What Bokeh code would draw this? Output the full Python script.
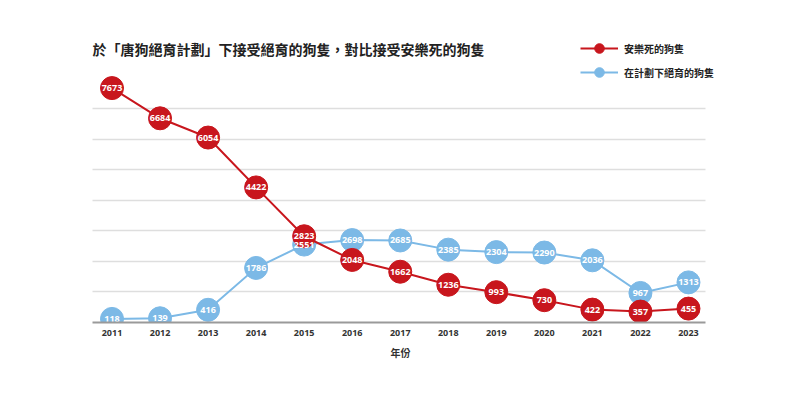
from bokeh.plotting import figure
from bokeh.models import Range1d, FixedTicker, Label, Legend, LegendItem, ColumnDataSource
from bokeh.core.properties import value
from bokeh.embed import file_html
from bokeh.resources import INLINE

years = [2011, 2012, 2013, 2014, 2015, 2016, 2017, 2018, 2019, 2020, 2021, 2022, 2023]
euthanised = [7673, 6684, 6054, 4422, 2823, 2048, 1662, 1236, 993, 730, 422, 357, 455]
neutered = [118, 139, 416, 1786, 2551, 2698, 2685, 2385, 2304, 2290, 2036, 967, 1313]
y_ticks = [0, 1000, 2000, 3000, 4000, 5000, 6000, 7000]

title_text = "於「唐狗絕育計劃」下接受絕育的狗隻，對比接受安樂死的狗隻"
label_red = "安樂死的狗隻"
label_blue = "在計劃下絕育的狗隻"
x_label = "年份"

RED = "#c8161d"
BLUE = "#7cb9e6"
GRID = "#dedede"

grid_lo, grid_hi = 2010.6, 2023.36

p = figure(width=800, height=395, output_backend="svg", toolbar_location=None,
           x_range=Range1d(2008.679, 2025.332), y_range=Range1d(0, 10540),
           min_border_left=0, min_border_right=0, min_border_top=0, min_border_bottom=73)
p.outline_line_color = None
p.background_fill_color = "white"
p.border_fill_color = "white"

p.yaxis.visible = False
p.xgrid.grid_line_color = None

yg = p.ygrid[0]
if "cross_bounds" in yg.properties():
    yg.ticker = FixedTicker(ticks=y_ticks)
    yg.grid_line_color = GRID
    yg.grid_line_width = 1.5
    yg.cross_bounds = (grid_lo, grid_hi)
else:
    yg.grid_line_color = None
    p.segment(x0=grid_lo, x1=grid_hi, y0=y_ticks, y1=y_ticks, line_color=GRID, line_width=1.5)

xa = p.xaxis[0]
xa.bounds = (grid_lo, grid_hi)
xa.ticker = FixedTicker(ticks=years)
xa.axis_line_color = "#9a9a9a"
xa.axis_line_width = 2
xa.major_tick_line_color = None
xa.minor_tick_line_color = None
xa.major_tick_out = 0
xa.major_label_standoff = 7
xa.major_label_text_font = "Open Sans"
xa.major_label_text_font_style = "bold"
xa.major_label_text_font_size = "9px"
xa.major_label_text_color = "#333333"
xa.axis_label = x_label
xa.axis_label_standoff = 6
xa.axis_label_text_font = "Noto Sans CJK TC"
xa.axis_label_text_font_style = "bold"
xa.axis_label_text_font_size = "10px"
xa.axis_label_text_color = "#333333"

src_r = ColumnDataSource(dict(x=years, y=euthanised, t=[str(v) for v in euthanised]))
src_b = ColumnDataSource(dict(x=years, y=neutered, t=[str(v) for v in neutered]))

lb = p.line("x", "y", source=src_b, line_color=BLUE, line_width=2)
cb = p.scatter("x", "y", source=src_b, size=23, fill_color=BLUE, line_color=BLUE)
lr = p.line("x", "y", source=src_r, line_color=RED, line_width=2)
cr = p.scatter("x", "y", source=src_r, size=23, fill_color=RED, line_color=RED)

for src in (src_b, src_r):
    p.text("x", "y", text="t", source=src, text_align="center", text_baseline="middle",
           text_color="white", text_font=value("Open Sans"), text_font_style="bold",
           text_font_size="9px")

title = Label(x=92, y=274, x_units="screen", y_units="screen", text=title_text,
              text_font="Noto Sans CJK TC", text_font_style="bold", text_font_size="14px",
              text_color="#222222", text_baseline="middle", text_align="left")
p.add_layout(title)

legend = Legend(items=[LegendItem(label=label_red, renderers=[lr, cr]),
                       LegendItem(label=label_blue, renderers=[lb, cb])],
                location=(580, 238), padding=0, margin=0, spacing=0,
                glyph_width=38, glyph_height=24, label_standoff=6,
                border_line_alpha=0, background_fill_alpha=0,
                label_text_font="Noto Sans CJK TC", label_text_font_style="bold",
                label_text_font_size="10px", label_text_color="#222222")
p.add_layout(legend)

open("out.html", "w").write(file_html(p, INLINE))
